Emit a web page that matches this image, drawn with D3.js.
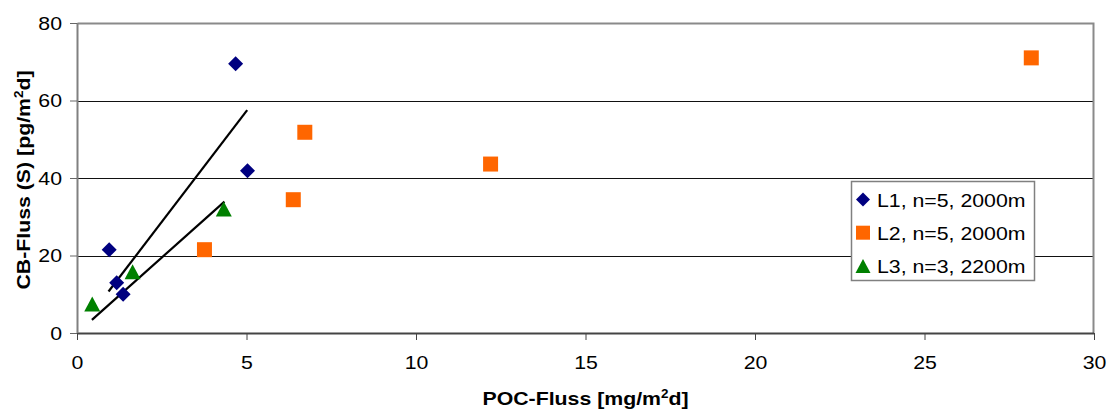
<!DOCTYPE html>
<html>
<head>
<meta charset="utf-8">
<script src="https://cdn.jsdelivr.net/npm/d3@7"></script>
<style>
  body { margin: 0; background: #fff; }
  text { font-family: Arial, "Liberation Sans", sans-serif; }
</style>
</head>
<body>
<svg id="chart" width="1107" height="409"></svg>
<script>
// values
var l1X = [0.95, 1.17, 1.36, 4.68, 5.03],
    l1Y = [21.5, 13.0, 10.0, 69.5, 41.9];
var l2X = [3.76, 6.38, 6.72, 12.2, 28.15],
    l2Y = [21.5, 34.4, 51.8, 43.6, 71.0];
var l3X = [0.45, 1.64, 4.33],
    l3Y = [7.5, 15.8, 32.0];
// trend lines (end points)
var trend1X = [0.93, 5.02], trend1Y = [10.7, 57.5];
var trend2X = [0.44, 4.35], trend2Y = [3.4, 33.9];

var xTicks = [0, 5, 10, 15, 20, 25, 30],
    yTicks = [0, 20, 40, 60, 80];
var legendLabels = ["L1, n=5, 2000m", "L2, n=5, 2000m", "L3, n=3, 2200m"];

var FONT = 19, STRETCH = 1.12;

var svg = d3.select("#chart"),
    margin = { top: 23, right: 13, bottom: 76, left: 77 },
    width = +svg.attr("width") - margin.left - margin.right,
    height = +svg.attr("height") - margin.top - margin.bottom;

var x = d3.scaleLinear().domain([0, 30]).range([0, width]),
    y = d3.scaleLinear().domain([0, 80]).range([height, 0]);

var g = svg.append("g")
    .attr("transform", "translate(" + margin.left + "," + margin.top + ")");

// grid lines
g.append("g")
    .selectAll("line")
    .data(yTicks.filter(function (d) { return d > 0 && d < 80; }))
    .enter().append("line")
    .attr("x1", 0).attr("x2", width)
    .attr("y1", function (d) { return Math.round(y(d)) + 0.5; })
    .attr("y2", function (d) { return Math.round(y(d)) + 0.5; })
    .attr("stroke", "#111").attr("stroke-width", 1);

// frame top/right
g.append("path")
    .attr("d", "M0.5,0.5H" + (width - 0.5) + "V" + height)
    .attr("fill", "none").attr("stroke", "#8a8a8a").attr("stroke-width", 2);

// axes
var xAxis = d3.axisBottom(x).tickValues(xTicks).tickSize(7).tickPadding(16),
    yAxis = d3.axisLeft(y).tickValues(yTicks).tickSize(7).tickPadding(8);

var gx = g.append("g").attr("transform", "translate(0," + height + ")").call(xAxis);
gx.select(".domain").attr("d", "M0,0.5H" + width).attr("stroke", "#444").attr("stroke-width", 2);
gx.selectAll(".tick line").attr("stroke", "#444");
gx.selectAll(".tick text").attr("font-size", FONT).attr("fill", "#000")
    .attr("font-family", "Arial, 'Liberation Sans', sans-serif");

var gy = g.append("g").call(yAxis);
gy.select(".domain").attr("d", "M0.5," + height + "V0").attr("stroke", "#808080").attr("stroke-width", 2);
gy.selectAll(".tick line").attr("stroke", "#666");
gy.selectAll(".tick text").attr("font-size", FONT).attr("fill", "#000")
    .attr("font-family", "Arial, 'Liberation Sans', sans-serif");

// trend lines
var line = d3.line().x(function (d) { return x(d[0]); }).y(function (d) { return y(d[1]); });
[[trend1X, trend1Y], [trend2X, trend2Y]].forEach(function (t) {
    g.append("path")
        .datum(d3.zip(t[0], t[1]))
        .attr("d", line)
        .attr("fill", "none").attr("stroke", "#000").attr("stroke-width", 2.2);
});

// marker shapes
function diamond(s) { return "M0," + (-s) + "L" + s + ",0L0," + s + "L" + (-s) + ",0Z"; }
function square(s) { return "M" + (-s) + "," + (-s) + "H" + s + "V" + s + "H" + (-s) + "Z"; }
function triangle(s) { return "M0," + (-s) + "L" + (s + 0.5) + "," + s + "L" + (-s - 0.5) + "," + s + "Z"; }

var series = [
    { xs: l1X, ys: l1Y, color: "#000080", shape: diamond, size: 7.5 },
    { xs: l2X, ys: l2Y, color: "#FF6600", shape: square, size: 7.5 },
    { xs: l3X, ys: l3Y, color: "#008000", shape: triangle, size: 7.5 }
];

series.forEach(function (s) {
    g.append("g").selectAll("path")
        .data(d3.zip(s.xs, s.ys))
        .enter().append("path")
        .attr("transform", function (d) { return "translate(" + x(d[0]) + "," + y(d[1]) + ")"; })
        .attr("d", s.shape(s.size))
        .attr("fill", s.color);
});

// legend
var legend = svg.append("g").attr("transform", "translate(851,181)");
legend.append("rect")
    .attr("x", 0.5).attr("y", 0.5).attr("width", 183).attr("height", 99)
    .attr("fill", "#fff").attr("stroke", "#808080").attr("stroke-width", 1.5);

legendLabels.forEach(function (lbl, i) {
    var row = legend.append("g").attr("transform", "translate(12," + (18.5 + i * 33.2) + ")");
    row.append("path").attr("d", series[i].shape(7)).attr("fill", series[i].color);
    row.append("text").attr("x", 14).attr("y", 7)
        .attr("font-size", FONT).text(lbl);
});

// axis titles
var xt = svg.append("text")
    .attr("x", margin.left + width / 2).attr("y", 405)
    .attr("text-anchor", "middle").attr("font-size", FONT).attr("font-weight", "bold");
xt.append("tspan").text("POC-Fluss [mg/m");
xt.append("tspan").attr("font-size", 12).attr("dy", -7).text("2");
xt.append("tspan").attr("dy", 7).text("d]");

var yt = svg.append("text")
    .attr("transform", "translate(30," + (margin.top + height / 2 + 2) + ") rotate(-90)")
    .attr("text-anchor", "middle").attr("font-size", FONT).attr("font-weight", "bold");
yt.append("tspan").text("CB-Fluss (S) [pg/m");
yt.append("tspan").attr("font-size", 12).attr("dy", -7).text("2");
yt.append("tspan").attr("dy", 7).text("d]");

// the reference text is a little wider than the font; stretch it
svg.selectAll("text").each(function () {
    var len = this.getComputedTextLength();
    d3.select(this).attr("textLength", len * STRETCH).attr("lengthAdjust", "spacingAndGlyphs");
});
</script>
</body>
</html>
